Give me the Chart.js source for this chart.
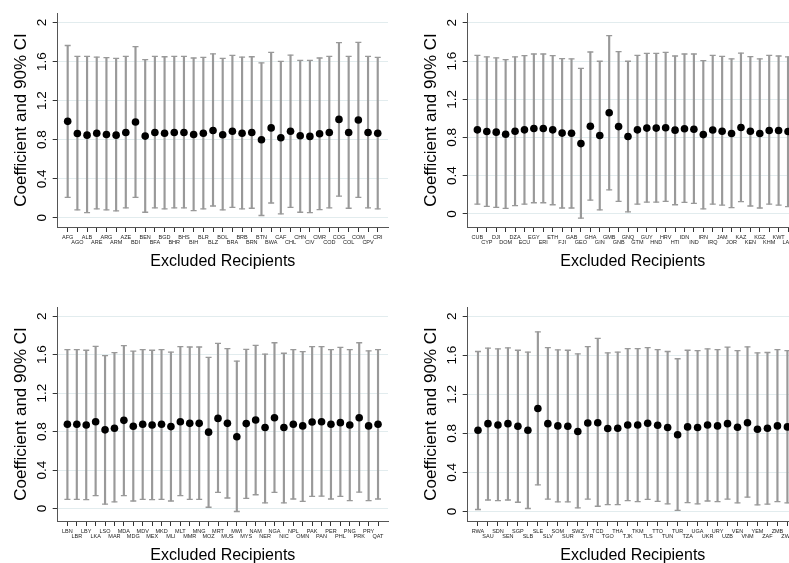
<!DOCTYPE html>
<html>
<head>
<meta charset="utf-8">
<script src="https://cdn.jsdelivr.net/npm/chart.js@4.4.1/dist/chart.umd.min.js"></script>
<style>
  html, body { margin: 0; padding: 0; background: #fff; overflow: hidden; }
  body { width: 789px; height: 563px; position: relative; }
  canvas { position: absolute; }
</style>
</head>
<body>
<canvas id="p1" width="400" height="294" style="left:0px;top:0px"></canvas>
<canvas id="p2" width="400" height="294" style="left:410px;top:0px"></canvas>
<canvas id="p3" width="400" height="294" style="left:0px;top:294px"></canvas>
<canvas id="p4" width="400" height="294" style="left:410px;top:294px"></canvas>
<script>
// y axis ticks shared by all panels
const yTicks = [0, 0.4, 0.8, 1.2, 1.6, 2];
const yTickLabels = ['0', '0.4', '0.8', '1.2', '1.6', '2'];

// Panel 1 (top left)
const labels1 = ['AFG','AGO','ALB','ARE','ARG','ARM','AZE','BDI','BEN','BFA','BGD','BHR','BHS','BIH','BLR','BLZ','BOL','BRA','BRB','BRN','BTN','BWA','CAF','CHL','CHN','CIV','CMR','COD','COG','COL','COM','CPV','CRI'];
const coef1 = [0.988,0.864,0.847,0.867,0.854,0.847,0.874,0.981,0.837,0.874,0.867,0.874,0.874,0.854,0.867,0.894,0.851,0.887,0.867,0.874,0.800,0.921,0.820,0.887,0.840,0.834,0.861,0.874,1.008,0.874,1.002,0.874,0.867];
const low1 = [0.209,0.081,0.054,0.091,0.081,0.071,0.101,0.209,0.057,0.101,0.091,0.101,0.101,0.074,0.091,0.121,0.081,0.108,0.091,0.098,0.024,0.152,0.041,0.108,0.057,0.054,0.084,0.101,0.222,0.098,0.209,0.101,0.091];
const high1 = [1.765,1.654,1.654,1.647,1.640,1.633,1.654,1.754,1.620,1.654,1.650,1.654,1.654,1.637,1.644,1.680,1.633,1.664,1.647,1.650,1.587,1.694,1.603,1.667,1.613,1.613,1.637,1.654,1.795,1.654,1.798,1.654,1.644];

// Panel 2 (top right)
const labels2 = ['CUB','CYP','DJI','DOM','DZA','ECU','EGY','ERI','ETH','FJI','GAB','GEO','GHA','GIN','GMB','GNB','GNQ','GTM','GUY','HND','HRV','HTI','IDN','IND','IRN','IRQ','JAM','JOR','KAZ','KEN','KGZ','KHM','KWT','LAO'];
const coef2 = [0.880,0.863,0.856,0.834,0.866,0.880,0.894,0.894,0.880,0.846,0.844,0.736,0.918,0.820,1.059,0.914,0.810,0.880,0.898,0.898,0.902,0.877,0.892,0.886,0.830,0.878,0.866,0.842,0.905,0.866,0.842,0.873,0.873,0.862];
const low2 = [0.103,0.079,0.069,0.059,0.086,0.103,0.117,0.117,0.096,0.062,0.062,-0.044,0.145,0.042,0.251,0.131,0.021,0.103,0.124,0.124,0.131,0.096,0.121,0.110,0.052,0.103,0.093,0.066,0.128,0.083,0.062,0.103,0.093,0.076];
const high2 = [1.660,1.643,1.633,1.615,1.643,1.657,1.674,1.674,1.657,1.626,1.622,1.523,1.695,1.598,1.866,1.698,1.598,1.660,1.681,1.681,1.691,1.653,1.674,1.674,1.605,1.660,1.650,1.622,1.684,1.646,1.622,1.660,1.653,1.643];

// Panel 3 (bottom left)
const labels3 = ['LBN','LBR','LBY','LKA','LSO','MAR','MDA','MDG','MDV','MEX','MKD','MLI','MLT','MMR','MNG','MOZ','MRT','MUS','MWI','MYS','NAM','NER','NGA','NIC','NPL','OMN','PAK','PAN','PER','PHL','PNG','PRK','PRY','QAT'];
const coef3 = [0.876,0.876,0.869,0.903,0.818,0.835,0.917,0.855,0.876,0.869,0.876,0.852,0.903,0.886,0.886,0.794,0.937,0.886,0.746,0.883,0.920,0.842,0.944,0.842,0.876,0.859,0.900,0.903,0.876,0.893,0.869,0.944,0.859,0.876];
const low3 = [0.095,0.095,0.092,0.133,0.045,0.068,0.133,0.078,0.095,0.092,0.095,0.078,0.133,0.095,0.095,0.013,0.167,0.109,-0.031,0.105,0.143,0.058,0.167,0.058,0.099,0.075,0.126,0.129,0.099,0.126,0.082,0.170,0.082,0.099];
const high3 = [1.653,1.653,1.646,1.687,1.591,1.622,1.694,1.636,1.653,1.646,1.653,1.626,1.683,1.680,1.680,1.571,1.718,1.663,1.534,1.656,1.697,1.605,1.724,1.615,1.653,1.632,1.683,1.683,1.653,1.677,1.653,1.724,1.639,1.653];

// Panel 4 (bottom right)
const labels4 = ['RWA','SAU','SDN','SEN','SGP','SLB','SLE','SLV','SOM','SUR','SWZ','SYR','TCD','TGO','THA','TJK','TKM','TLS','TTO','TUN','TUR','TZA','UGA','UKR','URY','UZB','VEN','VNM','YEM','ZAF','ZMB','ZWE'];
const coef4 = [0.832,0.899,0.886,0.899,0.872,0.832,1.054,0.899,0.876,0.872,0.819,0.906,0.909,0.849,0.852,0.886,0.886,0.903,0.882,0.859,0.785,0.866,0.859,0.886,0.876,0.899,0.862,0.909,0.842,0.852,0.876,0.866];
const low4 = [0.020,0.117,0.111,0.117,0.094,0.030,0.272,0.127,0.097,0.097,0.037,0.127,0.053,0.070,0.070,0.111,0.101,0.124,0.104,0.077,0.010,0.091,0.077,0.107,0.101,0.127,0.087,0.147,0.067,0.074,0.101,0.087];
const high4 = [1.638,1.672,1.665,1.675,1.651,1.631,1.839,1.678,1.655,1.651,1.614,1.688,1.772,1.624,1.631,1.668,1.668,1.678,1.658,1.638,1.564,1.651,1.648,1.665,1.658,1.682,1.648,1.685,1.624,1.628,1.658,1.648];

const FONT = "'Liberation Sans', Arial, sans-serif";
const CI_COLOR = '#999999';

function makeChart(id, labels, coef, low, high, yMin, yMax) {
    const ctx = document.getElementById(id).getContext('2d');
    return new Chart(ctx, {
        type: 'scatter',
        data: {
            datasets: [
                {
                    // CI whisker line
                    type: 'bar',
                    data: labels.map((_, i) => ({ x: i, y: [low[i], high[i]] })),
                    backgroundColor: CI_COLOR,
                    borderWidth: 0,
                    barThickness: 1.5,
                    order: 3
                },
                {
                    // upper caps
                    data: labels.map((_, i) => ({ x: i, y: high[i] })),
                    pointStyle: 'line',
                    pointRadius: 3,
                    borderColor: CI_COLOR,
                    borderWidth: 1.3,
                    order: 2
                },
                {
                    // lower caps
                    data: labels.map((_, i) => ({ x: i, y: low[i] })),
                    pointStyle: 'line',
                    pointRadius: 3,
                    borderColor: CI_COLOR,
                    borderWidth: 1.3,
                    order: 2
                },
                {
                    data: labels.map((_, i) => ({ x: i, y: coef[i] })),
                    pointStyle: 'circle',
                    pointRadius: 3.8,
                    backgroundColor: '#000',
                    borderColor: '#000',
                    borderWidth: 0,
                    order: 0
                }
            ]
        },
        options: {
            responsive: false,
            animation: false,
            events: [],
            layout: { padding: { left: 11.3, right: 12, top: 13, bottom: 22.35 } },
            plugins: { legend: { display: false }, tooltip: { enabled: false } },
            scales: {
                x: {
                    type: 'linear',
                    min: -1.03,
                    max: labels.length + 0.06,
                    offset: false,
                    afterBuildTicks: scale => {
                        scale.ticks = labels.map((_, i) => ({ value: i }));
                    },
                    ticks: {
                        autoSkip: false,
                        minRotation: 0,
                        maxRotation: 0,
                        padding: 3,
                        color: '#222',
                        font: { family: FONT, size: 5.5, lineHeight: 0.95 },
                        callback: (value) => {
                            const name = labels[value];
                            return value % 2 === 0 ? [name, ''] : ['', name];
                        }
                    },
                    grid: {
                        offset: false,
                        drawOnChartArea: false,
                        drawTicks: true,
                        tickLength: 5,
                        tickColor: '#333',
                        tickWidth: 1
                    },
                    border: { display: true, color: '#555', width: 1 },
                    title: {
                        display: true,
                        text: 'Excluded Recipients',
                        color: '#000',
                        font: { family: FONT, size: 16 },
                        padding: { top: 4, bottom: 0 }
                    }
                },
                y: {
                    type: 'linear',
                    min: yMin,
                    max: yMax,
                    afterBuildTicks: scale => {
                        scale.ticks = yTicks.map(v => ({ value: v }));
                    },
                    ticks: {
                        minRotation: 90,
                        maxRotation: 90,
                        crossAlign: 'center',
                        padding: 1.0,
                        color: '#000',
                        font: { family: FONT, size: 13.5 },
                        callback: (value, index) => yTickLabels[index]
                    },
                    grid: {
                        color: '#e2ecee',
                        lineWidth: 1,
                        drawTicks: true,
                        tickLength: 5,
                        tickColor: '#333',
                        tickWidth: 1
                    },
                    border: { display: true, color: '#555', width: 1 },
                    title: {
                        display: true,
                        text: 'Coefficient and 90% CI',
                        color: '#000',
                        font: { family: FONT, size: 17 },
                        padding: { top: 0, bottom: 2.8 }
                    }
                }
            }
        }
    });
}

makeChart('p1', labels1, coef1, low1, high1, -0.094, 2.098);
makeChart('p2', labels2, coef2, low2, high2, -0.137, 2.103);
makeChart('p3', labels3, coef3, low3, high3, -0.13, 2.096);
makeChart('p4', labels4, coef4, low4, high4, -0.098, 2.094);
</script>
</body>
</html>
